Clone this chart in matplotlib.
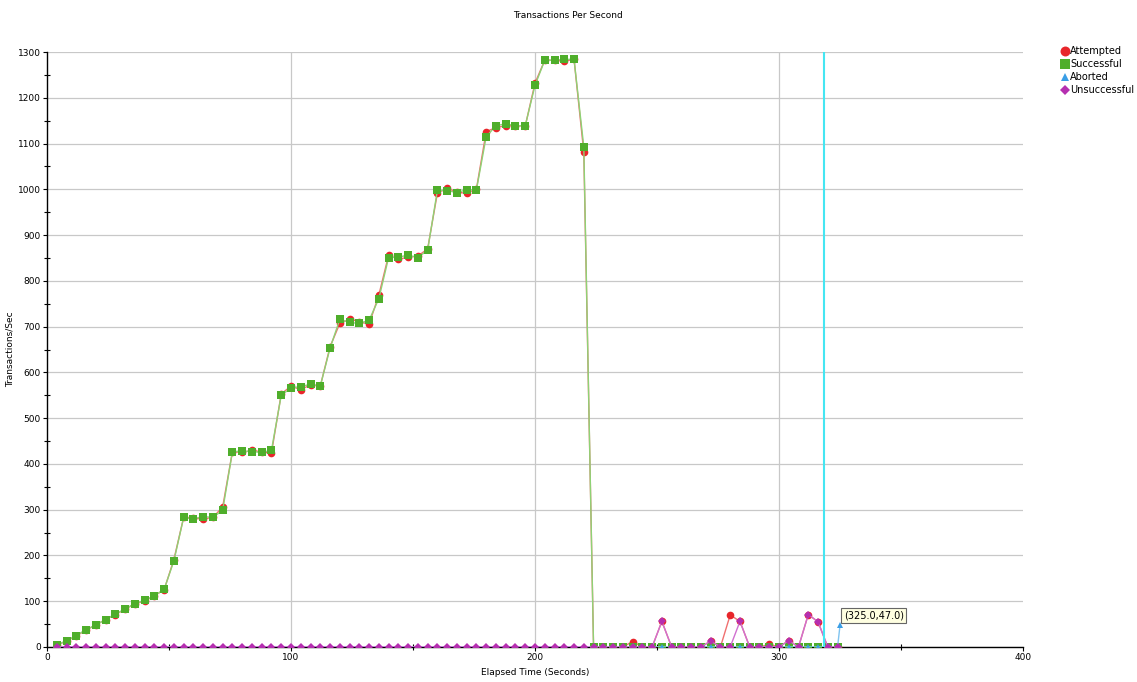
import numpy as np
from matplotlib import pyplot as plt
from matplotlib.ticker import MultipleLocator

# sample times (seconds)
times = list(range(4, 325, 4))

# ramp phase values (t = 4 .. 224), tail after that is mostly zero
successful_ramp = [4, 14, 25, 38, 48, 60, 72, 83, 95, 102, 112, 126, 188,
                   283, 280, 285, 283, 299, 427, 428, 427, 425, 430,
                   550, 566, 569, 574, 570, 653, 716, 709, 707, 714, 761,
                   851, 852, 856, 851, 867, 998, 997, 993, 999, 999,
                   1115, 1139, 1143, 1139, 1139, 1227, 1282, 1282, 1284, 1284,
                   1093, 0]
attempted_ramp = [4, 13, 24, 37, 48, 60, 71, 82, 95, 100, 112, 125, 191,
                  283, 281, 280, 283, 306, 427, 425, 430, 426, 424,
                  553, 570, 562, 573, 570, 656, 707, 716, 711, 705, 769,
                  856, 847, 852, 854, 870, 992, 1002, 994, 991, 1001,
                  1126, 1135, 1139, 1139, 1138, 1232, 1282, 1282, 1280, 1284,
                  1081, 0]

# non-zero points in the tail (time -> value)
attempted_tail = {240: 12, 252: 56, 272: 13, 280: 70, 284: 56, 296: 6,
                  304: 14, 312: 71, 316: 55}
unsuccessful_tail = {252: 56, 272: 13, 284: 56, 304: 14, 312: 71, 316: 55}

aborted_last_t = 325.0
aborted_last_v = 47.0
cursor_t = 318.6
x_grid = [100, 200, 300]

successful = successful_ramp + [0] * (len(times) - len(successful_ramp))
attempted = attempted_ramp + [attempted_tail.get(t, 0) for t in times[len(attempted_ramp):]]
unsuccessful = [unsuccessful_tail.get(t, 0) for t in times]
aborted_t = times + [aborted_last_t]
aborted = [0] * len(times) + [aborted_last_v]

plt.rcParams['font.family'] = 'DejaVu Sans'
plt.rcParams['font.size'] = 6.5

fig = plt.figure(figsize=(11.37, 6.82), dpi=100)
ax = fig.add_axes([47 / 1137, 1 - 647 / 682, (1023 - 47) / 1137, (647 - 52) / 682])

# name, x, y, marker colour, line colour, marker, size
series = [
    ('Attempted', times, attempted, '#e8262b', '#f07070', 'o', 5.5),
    ('Successful', times, successful, '#4fae2b', '#8fd275', 's', 5.5),
    ('Aborted', aborted_t, aborted, '#3a9ee6', '#80c4f0', '^', 4.5),
    ('Unsuccessful', times, unsuccessful, '#b52fb0', '#d070d0', 'D', 4),
]
z = 3
for name, xs, ys, col, lcol, mk, ms in series:
    ax.plot(xs, ys, color=lcol, lw=1, zorder=z)
    ax.plot(xs, ys, ls='none', marker=mk, markersize=ms, color=col,
            markeredgewidth=0, label=name, zorder=z + 0.5)
    z += 1

# cursor line
ax.axvline(cursor_t, color='#45e6f2', lw=1.5, zorder=10)

# tooltip
ax.text(326.6, 69, '(%.1f,%.1f)' % (aborted_last_t, aborted_last_v), fontsize=7,
        va='center', ha='left', zorder=12,
        bbox=dict(boxstyle='square,pad=0.25', fc='#ffffe1', ec='#666666', lw=0.8))

ax.set_xlim(0, 400)
ax.set_ylim(0, 1300)
ax.xaxis.set_major_locator(MultipleLocator(100))
ax.xaxis.set_minor_locator(MultipleLocator(50))
ax.yaxis.set_major_locator(MultipleLocator(100))
ax.yaxis.set_minor_locator(MultipleLocator(50))
ax.tick_params(which='major', direction='out', length=3, width=0.8, pad=1.5, labelsize=6.5)
ax.tick_params(which='minor', direction='inout', length=4, width=0.8)
# horizontal grid from the axis, vertical only at inner ticks
ax.grid(axis='y', which='major', color='#c8c8c8', lw=0.9)
for gx in x_grid:
    ax.axvline(gx, color='#c8c8c8', lw=0.9, zorder=0.5)
ax.set_axisbelow(True)
for side in ['top', 'right']:
    ax.spines[side].set_visible(False)
for side in ['left', 'bottom']:
    ax.spines[side].set_color('black')
    ax.spines[side].set_linewidth(1)

ax.set_xlabel('Elapsed Time (Seconds)', fontsize=6.5, labelpad=4)
ax.set_ylabel('Transactions/Sec', fontsize=6.5)
ax.yaxis.set_label_coords(-0.033, 0.5)
fig.text(568 / 1137, 1 - 16 / 682, 'Transactions Per Second', ha='center', va='center', fontsize=6.5)

fig.legend(loc='upper left', bbox_to_anchor=(1061 / 1137, 1 - 46 / 682), frameon=False,
           fontsize=7, handlelength=0.8, handletextpad=0.15, labelspacing=0.32,
           borderaxespad=0, borderpad=0, markerscale=1.3)

fig.savefig('out.png', dpi=100)
